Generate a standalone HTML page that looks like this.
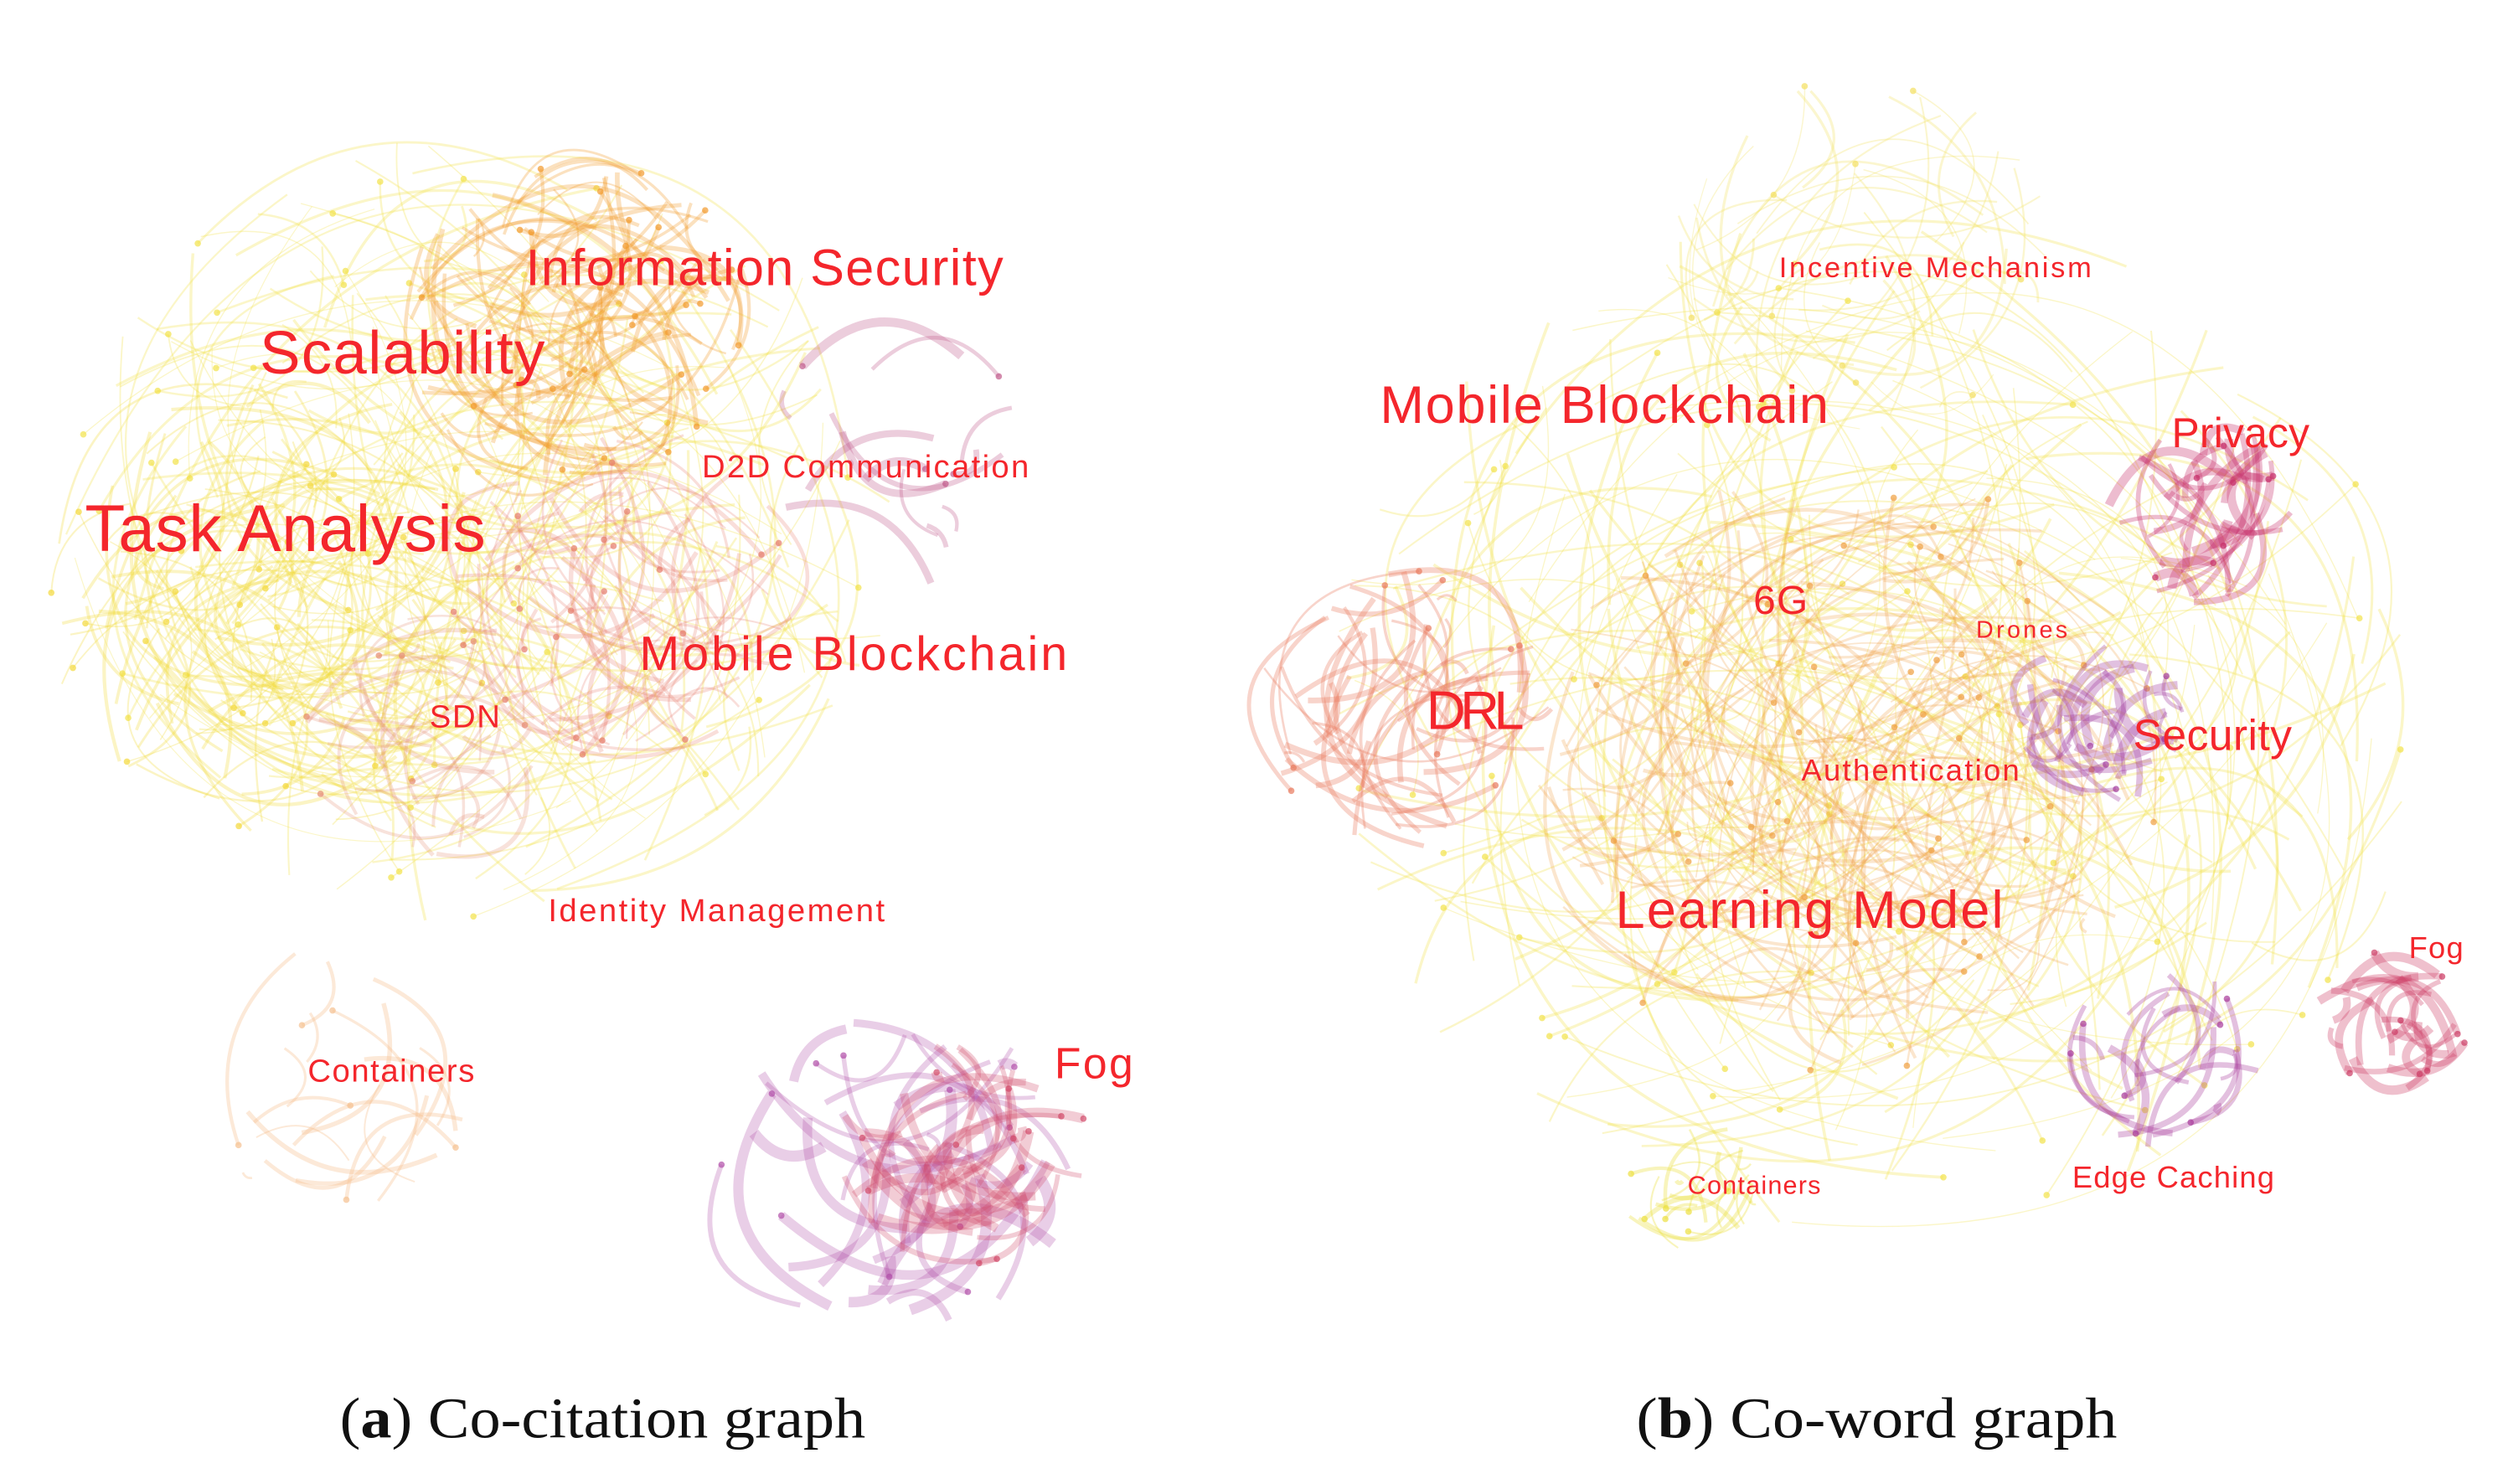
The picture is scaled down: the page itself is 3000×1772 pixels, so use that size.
<!DOCTYPE html>
<html><head><meta charset="utf-8"><style>
html,body{margin:0;padding:0;background:#fff;}
#c{position:absolute;left:0;top:0;width:3000px;height:1772px;}
svg text{font-family:"Liberation Sans",sans-serif;fill:#f4262c;}
.cap{font-family:"Liberation Serif",serif;fill:#111;}
</style></head><body>
<svg id="c" width="3000" height="1772" viewBox="0 0 1568 926.1" preserveAspectRatio="none" xmlns="http://www.w3.org/2000/svg">
<g id="arcs"></g>
<g>
<text x="328" y="178" font-size="32" textLength="298">Information Security</text>
<text x="162" y="233" font-size="38" textLength="178">Scalability</text>
<text x="53" y="344" font-size="41" textLength="250">Task Analysis</text>
<text x="438" y="298" font-size="20" textLength="204">D2D Communication</text>
<text x="399" y="418" font-size="30" textLength="267">Mobile Blockchain</text>
<text x="268" y="454" font-size="20" textLength="44">SDN</text>
<text x="342" y="575" font-size="20" textLength="210">Identity Management</text>
<text x="192" y="675" font-size="20" textLength="104">Containers</text>
<text x="658" y="673" font-size="27" textLength="49">Fog</text>
<text x="1110" y="173" font-size="18" textLength="195">Incentive Mechanism</text>
<text x="861" y="264" font-size="33" textLength="280">Mobile Blockchain</text>
<text x="1355" y="279" font-size="26" textLength="86">Privacy</text>
<text x="1094" y="383" font-size="25" textLength="34">6G</text>
<text x="1233" y="398" font-size="15" textLength="57">Drones</text>
<text x="890" y="455" font-size="34" textLength="61">DRL</text>
<text x="1331" y="468" font-size="27" textLength="99">Security</text>
<text x="1124" y="487" font-size="19" textLength="136">Authentication</text>
<text x="1008" y="579" font-size="33" textLength="242">Learning Model</text>
<text x="1503" y="598" font-size="19" textLength="34">Fog</text>
<text x="1053" y="745" font-size="16" textLength="83">Containers</text>
<text x="1293" y="741" font-size="19" textLength="126">Edge Caching</text>
<text class="cap" x="212" y="897" font-size="36" textLength="328" lengthAdjust="spacingAndGlyphs">(<tspan font-weight="bold">a</tspan>) Co-citation graph</text>
<text class="cap" x="1021" y="897" font-size="36" textLength="300" lengthAdjust="spacingAndGlyphs">(<tspan font-weight="bold">b</tspan>) Co-word graph</text>
</g>
</svg>
<script>
var s=12345;function r(){s=(s*1103515245+12345)%2147483648;return s/2147483648;}
var clusters=[
[300,330,260,"#f2e24a",170,1.2,0.3],
[180,380,150,"#f3d93a",110,1.5,0.3],
[360,200,110,"#f29a2c",90,2,0.3],
[390,370,110,"#e67a6a",60,2,0.25],
[270,460,80,"#e58a70",30,2,0.25],
[210,670,90,"#f5c090",18,2,0.35],
[560,290,90,"#c05a8a",14,4,0.3],
[560,730,110,"#b04ea8",35,5,0.28],
[600,720,80,"#d24868",35,5,0.28],
[1170,450,340,"#f2e24a",200,1.3,0.3],
[1150,480,200,"#f0a040",140,1.6,0.26],
[880,440,95,"#e87a5e",45,2.5,0.32],
[1375,320,60,"#c62e6a",30,4,0.32],
[1310,450,55,"#a23c9e",26,4,0.32],
[1350,660,60,"#a83a9a",20,3.5,0.32],
[1490,640,50,"#cc3a64",24,4,0.32],
[1055,740,45,"#ece040",20,2,0.35],
[1160,160,120,"#f3e060",40,1.2,0.3]
];
var h="";
clusters.forEach(function(c){
 for(var i=0;i<c[4];i++){
  var a=r()*6.283,d=Math.sqrt(r())*c[2],x1=c[0]+Math.cos(a)*d,y1=c[1]+Math.sin(a)*d*0.95;
  a=r()*6.283;d=Math.sqrt(r())*c[2];var x2=c[0]+Math.cos(a)*d,y2=c[1]+Math.sin(a)*d*0.95;
  var mx=(x1+x2)/2,my=(y1+y2)/2,dx=x2-x1,dy=y2-y1,k=(r()<0.5?-1:1)*(0.3+r()*0.4);
  var cx=mx-dy*k,cy=my+dx*k;
  h+='<path d="M'+x1.toFixed(1)+' '+y1.toFixed(1)+'Q'+cx.toFixed(1)+' '+cy.toFixed(1)+' '+x2.toFixed(1)+' '+y2.toFixed(1)+'" fill="none" stroke="'+c[3]+'" stroke-width="'+(c[5]*(0.5+r()))+'" stroke-opacity="'+c[6]+'"/>';
  if(r()<0.3)h+='<circle cx="'+x1.toFixed(1)+'" cy="'+y1.toFixed(1)+'" r="2" fill="'+c[3]+'" fill-opacity="0.7"/>';
 }
});
document.getElementById("arcs").innerHTML=h;
</script>
</body></html>
